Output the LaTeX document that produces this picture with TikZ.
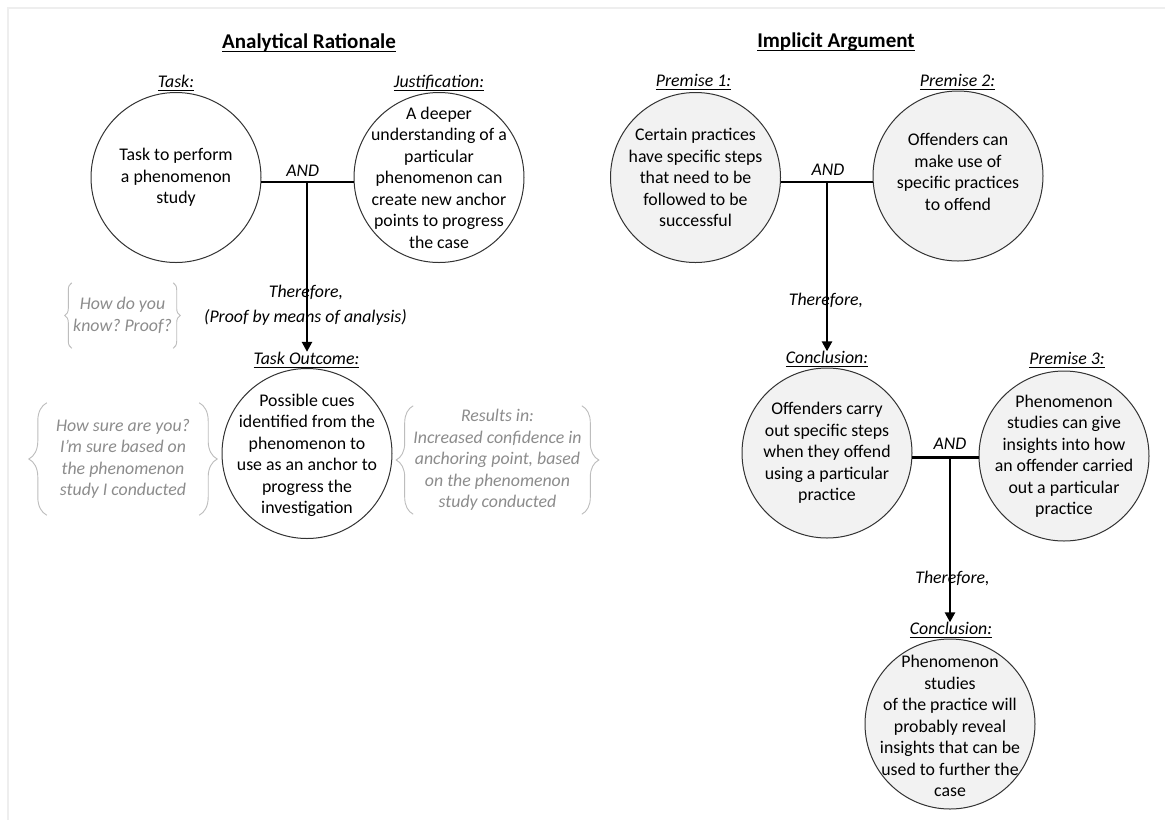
\documentclass[tikz,border=0pt]{standalone}
\usepackage{fontspec}
\setmainfont{Carlito}
\usetikzlibrary{arrows.meta,calc,decorations.pathreplacing}
\frenchspacing

\definecolor{notegray}{HTML}{8C8C8C}
\definecolor{bracegray}{HTML}{BDBDBD}
\definecolor{premfill}{HTML}{F2F2F2}
\definecolor{edgegray}{HTML}{333333}
\definecolor{pagegray}{HTML}{EEEEEE}

\newcommand{\bodyfont}{\fontsize{17.8}{21.5}\selectfont}
% underline at a fixed depth, whatever the letters
\newcommand{\undl}[1]{\setbox0\hbox{#1}\rlap{\rule[-0.2em]{\wd0}{0.065em}}\box0}

\tikzset{
  % the circle keeps its size, the text sits on it as a label
  bubble/.style={circle, draw=edgegray, line width=1pt, minimum size=170pt,
    inner sep=0pt},
  premise/.style={bubble, fill=premfill},
  say/.style={font=\bodyfont, align=center, inner sep=0pt},
  heading/.style={font=\fontsize{21}{25}\selectfont\bfseries, inner sep=0pt},
  tag/.style={font=\bodyfont\itshape, inner sep=0pt},
  note/.style={font=\bodyfont\itshape, text=notegray, align=center, inner sep=0pt},
  link/.style={line width=2.4pt},
  infer/.style={line width=2.4pt, -{Triangle[length=10pt,width=10pt]}},
  curly/.style={draw=bracegray, line width=0.9pt, decorate,
    decoration={brace, amplitude=#1}},
}

\begin{document}
\begin{tikzpicture}[x=1pt, y=-1pt]
		\useasboundingbox[fill=white] (0,0) rectangle (1165,820);
		\draw[pagegray, line width=1.2pt] (8,820) -- (8,8) -- (1165,8);

		% analytical rationale
		\node[heading] (arhead) at (309,43) {\undl{Analytical Rationale}};
		\node[tag] (tasklbl) at (176,83) {\undl{Task:}};
		\node[bubble, label={[say, name=tasktxt]center:{Task to perform\\a phenomenon\\study}}] (task) at (176,177.5) {};
		\node[tag] (justlbl) at (439,83) {\undl{Justification:}};
		\node[bubble, label={[say, name=justtxt]center:{A deeper\\understanding of a\\particular\\phenomenon can\\create new anchor\\points to progress\\the case}}] (just) at (439,177.5) {};
		\node[tag] (and1) at (302.7,170.7) {AND};
		\node[tag] (tf1) at (306,292.7) {Therefore,};
		\node[tag] (proof) at (305.5,317.3) {(Proof by means of analysis)};
		\node[tag] (outlbl) at (306.5,360) {\undl{Task Outcome:}};
		\node[bubble, label={[say, name=outtxt, yshift=-2pt]center:{Possible cues\\identified from the\\phenomenon to\\use as an anchor to\\progress the\\investigation}}] (outcome) at (307,453.5) {};

		% side notes
		\node[note, minimum width=101pt, minimum height=65pt] (know) at (122.5,315.5) {How do you\\know? Proof?};
		\node[note, minimum width=152pt, minimum height=112pt] (sure) at (123,459) {How sure are you?\\I’m sure based on\\the phenomenon\\study I conducted};
		\node[note, minimum width=155pt, minimum height=108pt] (result) at (497.5,460) {Results in:\\Increased confidence in\\anchoring point, based\\on the phenomenon\\study conducted};
		\draw[curly=7pt] (know.south west) -- (know.north west);
		\draw[curly=7pt] (know.north east) -- (know.south east);
		\draw[curly=18pt] (sure.south west) -- (sure.north west);
		\draw[curly=18pt] (sure.north east) -- (sure.south east);
		\draw[curly=17pt] (result.south west) -- (result.north west);
		\draw[curly=17pt] (result.north east) -- (result.south east);

		\coordinate (j1) at (outcome |- task.-3);
		\draw[link] (task.-3) -- (task.-3 -| just.west);
		\draw[infer] (j1) -- (j1 |- outlbl.north);

		% implicit argument
		\node[heading] (iahead) at (836,42) {\undl{Implicit Argument}};
		\node[tag] (p1lbl) at (693.5,82.5) {\undl{Premise 1:}};
		\node[premise, label={[say, name=p1txt]center:{Certain practices\\have specific steps\\that need to be\\followed to be\\successful}}] (prem1) at (695.5,177.5) {};
		\node[tag] (p2lbl) at (957.5,82.5) {\undl{Premise 2:}};
		\node[premise, label={[say, name=p2txt, yshift=4pt]center:{Offenders can\\make use of\\specific practices\\to offend}}] (prem2) at (958,176) {};
		\node[tag] (and2) at (828,170) {AND};
		\node[tag] (tf2) at (826,300.7) {Therefore,};
		\node[tag] (conlbl) at (827,359.5) {\undl{Conclusion:}};
		\node[premise, label={[say, name=contxt]center:{Offenders carry\\out specific steps\\when they offend\\using a particular\\practice}}] (concl) at (827,453) {};
		\node[tag] (p3lbl) at (1067,360.5) {\undl{Premise 3:}};
		\node[premise, label={[say, name=p3txt]center:{Phenomenon\\studies can give\\insights into how\\an offender carried\\out a particular\\practice}}] (prem3) at (1064,456) {};
		\node[tag] (and3) at (950,443.3) {AND};
		\node[tag] (tf3) at (952.5,578.3) {Therefore,};
		\node[tag] (finlbl) at (951,630.5) {\undl{Conclusion:}};
		\node[premise, label={[say, name=fintxt, yshift=-2pt]center:{Phenomenon\\studies\\of the practice will\\probably reveal\\insights that can be\\used to further the\\case}}] (final) at (950,724) {};

		\coordinate (j2) at (concl |- prem1.-3);
		\draw[link] (prem1.-3) -- (prem1.-3 -| prem2.west);
		\draw[infer] (j2) -- (j2 |- conlbl.north);
		\coordinate (j3) at (final |- concl.-3);
		\draw[link] (concl.-3) -- (concl.-3 -| prem3.west);
		\draw[infer] (j3) -- (j3 |- finlbl.north);
\end{tikzpicture}
\end{document}
